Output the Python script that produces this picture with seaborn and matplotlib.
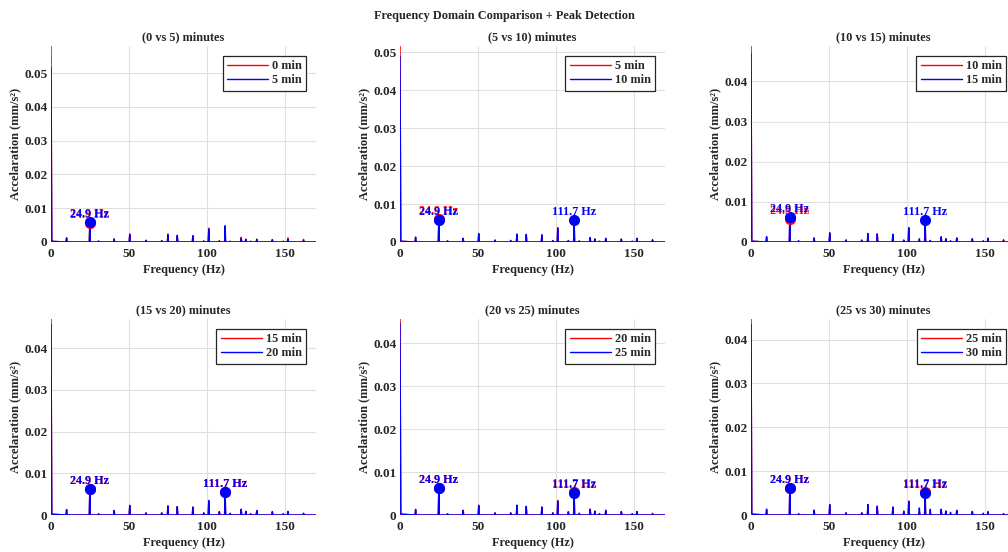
import numpy as np
import pandas as pd
import matplotlib
matplotlib.use("Agg")
import matplotlib.pyplot as plt
import seaborn as sns

# spike frequencies shared by every spectrum (Hz)
peak_freqs = [10.0, 24.9, 30.5, 40.5, 50.5, 61.0, 71.0, 75.0, 81.0, 91.0, 98.0, 101.2,
              108.0, 111.7, 115.0, 122.0, 125.0, 128.0, 132.0, 142.0, 149.0, 152.0, 162.0]

# amplitude at 0 Hz (DC) for each recording
dc_level = {0: 0.0580, 5: 0.0516, 10: 0.0488, 15: 0.0470, 20: 0.0457, 25: 0.0447, 30: 0.0435}

# spike amplitudes (mm/s^2), same order as peak_freqs
amp_0min = [0.0012, 0.0055, 0.0003, 0.0009, 0.0024, 0.0005, 0.0004, 0.0024, 0.0020, 0.0019, 0.0003, 0.0041,
            0.0004, 0.0015, 0.0002, 0.0014, 0.0008, 0.0002, 0.0008, 0.0007, 0.0002, 0.0012, 0.0008]
amp_5min = [0.0012, 0.0060, 0.0003, 0.0009, 0.0022, 0.0005, 0.0004, 0.0021, 0.0019, 0.0018, 0.0003, 0.0038,
            0.0003, 0.0048, 0.0002, 0.0010, 0.0008, 0.0002, 0.0008, 0.0007, 0.0002, 0.0009, 0.0005]
amp_10min = [0.0013, 0.0057, 0.0003, 0.0010, 0.0022, 0.0005, 0.0004, 0.0020, 0.0020, 0.0019, 0.0004, 0.0036,
             0.0004, 0.0058, 0.0003, 0.0012, 0.0008, 0.0002, 0.0010, 0.0008, 0.0002, 0.0010, 0.0006]
amp_15min = [0.0013, 0.0063, 0.0003, 0.0010, 0.0023, 0.0005, 0.0005, 0.0021, 0.0020, 0.0019, 0.0005, 0.0035,
             0.0008, 0.0054, 0.0004, 0.0013, 0.0008, 0.0003, 0.0010, 0.0008, 0.0003, 0.0009, 0.0004]
amp_20min = [0.0013, 0.0063, 0.0003, 0.0011, 0.0023, 0.0005, 0.0005, 0.0022, 0.0020, 0.0019, 0.0005, 0.0034,
             0.0008, 0.0054, 0.0004, 0.0014, 0.0009, 0.0003, 0.0011, 0.0008, 0.0003, 0.0008, 0.0004]
amp_25min = [0.0013, 0.0062, 0.0003, 0.0011, 0.0022, 0.0005, 0.0005, 0.0023, 0.0020, 0.0018, 0.0005, 0.0032,
             0.0007, 0.0052, 0.0004, 0.0013, 0.0009, 0.0003, 0.0011, 0.0008, 0.0003, 0.0008, 0.0003]
amp_30min = [0.0013, 0.0062, 0.0003, 0.0011, 0.0024, 0.0005, 0.0005, 0.0024, 0.0020, 0.0018, 0.0009, 0.0031,
             0.0016, 0.0050, 0.0013, 0.0013, 0.0009, 0.0006, 0.0010, 0.0008, 0.0004, 0.0006, 0.0003]
amps = {0: amp_0min, 5: amp_5min, 10: amp_10min, 15: amp_15min, 20: amp_20min, 25: amp_25min, 30: amp_30min}

# (earlier, later) minutes per panel and the peaks each detector marked
pairs = [(0, 5), (5, 10), (10, 15), (15, 20), (20, 25), (25, 30)]
red_marks = [[24.9], [24.9], [24.9], [24.9, 111.7], [24.9, 111.7], [24.9, 111.7]]
blue_marks = [[24.9], [24.9, 111.7], [24.9, 111.7], [24.9, 111.7], [24.9, 111.7], [24.9, 111.7]]

xticks = [0, 50, 100, 150]
yticks = [0, 0.01, 0.02, 0.03, 0.04, 0.05]
ytick_labels = ["0", "0.01", "0.02", "0.03", "0.04", "0.05"]


def spectrum(minute):
    # line vertices: DC value, then a narrow spike at every peak frequency
    fx, fy = [0.0, 0.5], [dc_level[minute], 0.0002]
    for f, a in zip(peak_freqs, amps[minute]):
        fx += [f - 0.35, f, f + 0.35]
        fy += [0.0, a, 0.0]
    fx.append(170.0)
    fy.append(0.0)
    return pd.DataFrame({"freq": fx, "amp": fy})


sns.set_theme(style="whitegrid")
plt.rcParams["font.family"] = ["Liberation Serif", "DejaVu Serif"]
plt.rcParams["font.weight"] = "bold"

RED, BLUE = "#ff0000", "#0000ff"
fig = plt.figure(figsize=(10.08, 5.52), dpi=100)
fig.suptitle("Frequency Domain Comparison + Peak Detection", y=1 - 16 / 552, va="center",
             fontsize=8.8, fontweight="bold")

lefts = [51, 400, 751]
tops = [46, 319]
W, H = 265, 196

for i, (a, b) in enumerate(pairs):
    l, t = lefts[i % 3], tops[i // 3]
    ax = fig.add_axes([l / 1008, 1 - (t + H) / 552, W / 1008, H / 552])
    ax.set_facecolor("white")

    sa, sb = spectrum(a), spectrum(b)
    sns.lineplot(data=sa, x="freq", y="amp", ax=ax, color=RED, lw=1, sort=False,
                 estimator=None, label=f"{a} min")
    sns.lineplot(data=sb, x="freq", y="amp", ax=ax, color=BLUE, lw=1, sort=False,
                 estimator=None, label=f"{b} min")

    for marks, minute, col in [(red_marks[i], a, RED), (blue_marks[i], b, BLUE)]:
        pk = [amps[minute][peak_freqs.index(f)] for f in marks]
        ax.plot(marks, pk, "o", color=col, ms=7, zorder=4)
        for f, v in zip(marks, pk):
            ax.annotate(f"{f:.1f} Hz", (f, v), xytext=(0, 1.5), textcoords="offset points",
                        ha="center", va="bottom", color=col, fontsize=8.7, fontweight="bold", zorder=5)

    ax.set_xticks(xticks)
    ax.set_yticks(yticks)
    ax.set_yticklabels(ytick_labels)
    ax.set_xlim(0, 170)
    ax.set_ylim(0, max(dc_level[a], dc_level[b]))
    ax.tick_params(length=0, labelsize=9.5, colors="#262626")
    ax.tick_params(axis="y", pad=2.5)
    ax.tick_params(axis="x", pad=4)
    for lab in ax.get_xticklabels() + ax.get_yticklabels():
        lab.set_fontweight("bold")
    ax.grid(True, color="#e0e0e0", lw=0.8)
    for s in ax.spines.values():
        s.set_visible(False)

    ax.set_title(f"({a} vs {b}) minutes", fontsize=8.8, fontweight="bold", pad=4)
    ax.set_xlabel("Frequency (Hz)", fontsize=8.8, fontweight="bold", color="#262626", labelpad=3)
    ax.set_ylabel("Accelaration (mm/s²)", fontsize=9, fontweight="bold", color="#262626", labelpad=2)

    leg = ax.legend(loc="upper right", fontsize=8.8, frameon=True, fancybox=False,
                    handlelength=3.4, handletextpad=0.3, borderpad=0.35, labelspacing=0.2,
                    borderaxespad=0.8)
    leg.get_frame().set_edgecolor("#262626")
    leg.get_frame().set_linewidth(0.9)
    leg.get_frame().set_alpha(1)
    for txt in leg.get_texts():
        txt.set_fontweight("bold")

fig.savefig("out.png", dpi=100)
